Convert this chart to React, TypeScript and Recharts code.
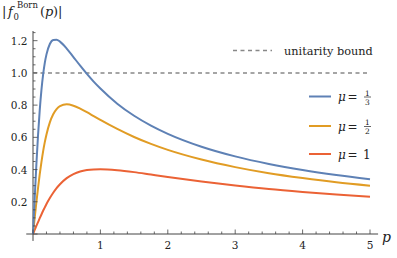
import React from "react";
import { LineChart, Line, XAxis, YAxis, ReferenceLine, Customized } from "recharts";

const pValues = [0, 0.01, 0.025, 0.05, 0.075, 0.1, 0.125, 0.15, 0.175, 0.2, 0.25, 0.3, 0.35, 0.4, 0.5, 0.6, 0.7, 0.8, 0.9, 1.0, 1.25, 1.5, 1.75, 2, 2.5, 3, 3.5, 4, 4.5, 5];
const muThird = [0, 0.090, 0.222, 0.431, 0.615, 0.769, 0.893, 0.989, 1.062, 1.115, 1.179, 1.204, 1.206, 1.194, 1.151, 1.098, 1.045, 0.994, 0.946, 0.903, 0.809, 0.734, 0.673, 0.622, 0.542, 0.482, 0.435, 0.397, 0.366, 0.340];
const muHalf = [0, 0.040, 0.100, 0.196, 0.287, 0.371, 0.446, 0.513, 0.570, 0.618, 0.693, 0.743, 0.775, 0.794, 0.805, 0.796, 0.778, 0.756, 0.732, 0.708, 0.652, 0.602, 0.559, 0.522, 0.462, 0.415, 0.377, 0.347, 0.321, 0.300];
const muOne = [0, 0.010, 0.025, 0.050, 0.074, 0.098, 0.121, 0.144, 0.165, 0.186, 0.223, 0.256, 0.285, 0.309, 0.347, 0.372, 0.388, 0.397, 0.401, 0.402, 0.396, 0.384, 0.369, 0.354, 0.326, 0.301, 0.279, 0.261, 0.245, 0.231];

const xTicks = Array.from({ length: 26 }, (_, i) => Math.round(i * 0.2 * 100) / 100);
const yTicks = Array.from({ length: 26 }, (_, i) => Math.round(i * 0.05 * 100) / 100);
const unitarityBound = 1;

const data = pValues.map((p, i) => ({ p, a: muThird[i], b: muHalf[i], c: muOne[i] }));

const FONT = "DejaVu Serif";
const TS = { fontFamily: FONT };
const AXIS = "#444";
const BLUE = "#5E81B5";
const ORANGE = "#E19C24";
const RED = "#EB6235";

const XTick = (props: any) => {
  const { x, y, payload } = props;
  const v = payload.value;
  const major = Math.abs(v - Math.round(v)) < 1e-6;
  return (
    <g>
      <line x1={x} x2={x} y1={y} y2={y - (major ? 4.5 : 2.5)} stroke={AXIS} strokeWidth={0.8} />
      {major && v !== 0 && (
        <text x={x} y={y + 15} textAnchor="middle" style={TS} fontSize={10.5} fill="#222">
          {String(Math.round(v))}
        </text>
      )}
    </g>
  );
};

const YTick = (props: any) => {
  const { x, y, payload } = props;
  const v = payload.value;
  const major = Math.abs(v * 5 - Math.round(v * 5)) < 1e-6;
  return (
    <g>
      <line x1={x} x2={x + (major ? 4.5 : 2.5)} y1={y} y2={y} stroke={AXIS} strokeWidth={0.8} />
      {major && v !== 0 && (
        <text x={x - 5.5} y={y + 4} textAnchor="end" style={TS} fontSize={10.5} fill="#222">
          {v.toFixed(1)}
        </text>
      )}
    </g>
  );
};

const Frac = ({ x, y, num, den }: any) => (
  <g fill="#222">
    <text x={x} y={y - 1.5} textAnchor="middle" fontSize={7.5} style={TS}>{num}</text>
    <line x1={x - 3.5} x2={x + 3.5} y1={y} y2={y} stroke="#222" strokeWidth={0.7} />
    <text x={x} y={y + 7.5} textAnchor="middle" fontSize={7.5} style={TS}>{den}</text>
  </g>
);

const Overlay = () => (
  <g>
    <g fill="#222">
      <text x={2} y={16} fontSize={13} style={TS}>|</text>
      <text x={8} y={16} fontSize={13} fontStyle="italic" style={TS}>f</text>
      <text x={13.5} y={20} fontSize={8.5} style={TS}>0</text>
      <text x={17} y={8} fontSize={8.5} style={TS}>Born</text>
      <text x={40} y={16} fontSize={13} style={TS}>(</text>
      <text x={45} y={16} fontSize={13} fontStyle="italic" style={TS}>p</text>
      <text x={53} y={16} fontSize={13} style={TS}>)|</text>
    </g>
    <text x={382} y={242} fontSize={14} fontStyle="italic" fill="#222" style={TS}>p</text>
    <line x1={233} x2={272} y1={50.5} y2={50.5} stroke="#888" strokeWidth={1.5} strokeDasharray="4 3.5" />
    <text x={284} y={54.5} fontSize={11.3} fill="#222" style={TS}>unitarity bound</text>

    <line x1={309} x2={331} y1={96.5} y2={96.5} stroke={BLUE} strokeWidth={2} />
    <text x={338} y={101} fontSize={12} fontStyle="italic" fill="#222" style={TS}>μ</text>
    <text x={347.5} y={101} fontSize={12} fill="#222" style={TS}>=</text>
    <Frac x={367.5} y={97} num="1" den="3" />

    <line x1={309} x2={331} y1={126} y2={126} stroke={ORANGE} strokeWidth={2} />
    <text x={338} y={130.5} fontSize={12} fontStyle="italic" fill="#222" style={TS}>μ</text>
    <text x={347.5} y={130.5} fontSize={12} fill="#222" style={TS}>=</text>
    <Frac x={367.5} y={126.5} num="1" den="2" />

    <line x1={309} x2={331} y1={154} y2={154} stroke={RED} strokeWidth={2} />
    <text x={338} y={158.5} fontSize={12} fontStyle="italic" fill="#222" style={TS}>μ</text>
    <text x={347.5} y={158.5} fontSize={12} fill="#222" style={TS}>=</text>
    <text x={363} y={158.5} fontSize={12} fill="#222" style={TS}>1</text>
  </g>
);

export default function App() {
  return (
    <div style={{ position: "absolute", left: 0, top: 0, width: 397, height: 258, background: "#fff", fontFamily: FONT }}>
      <LineChart width={397} height={258} data={data} margin={{ top: 31, right: 27, bottom: 0, left: 0 }} style={{ fontFamily: FONT }}>
        <XAxis
          dataKey="p"
          type="number"
          domain={[0, 5]}
          ticks={xTicks}
          interval={0}
          axisLine={false}
          tickLine={false}
          tickSize={0}
          tickMargin={0}
          height={24}
          tick={<XTick />}
        />
        <YAxis
          type="number"
          domain={[0, 1.26]}
          ticks={yTicks}
          interval={0}
          axisLine={false}
          tickLine={false}
          tickSize={0}
          tickMargin={0}
          width={33}
          tick={<YTick />}
        />
        <ReferenceLine
          segment={[{ x: -0.1, y: 0 }, { x: 5.12, y: 0 }]}
          ifOverflow="visible"
          stroke={AXIS}
          strokeWidth={1}
        />
        <ReferenceLine
          segment={[{ x: 0, y: -0.043 }, { x: 0, y: 1.26 }]}
          ifOverflow="visible"
          stroke={AXIS}
          strokeWidth={1}
        />
        <ReferenceLine y={unitarityBound} stroke="#888" strokeWidth={1.5} strokeDasharray="4 3.5" />
        <Line type="monotone" dataKey="c" stroke={RED} strokeWidth={2} dot={false} isAnimationActive={false} />
        <Line type="monotone" dataKey="b" stroke={ORANGE} strokeWidth={2} dot={false} isAnimationActive={false} />
        <Line type="monotone" dataKey="a" stroke={BLUE} strokeWidth={2} dot={false} isAnimationActive={false} />
        <Customized component={Overlay} />
      </LineChart>
    </div>
  );
}
